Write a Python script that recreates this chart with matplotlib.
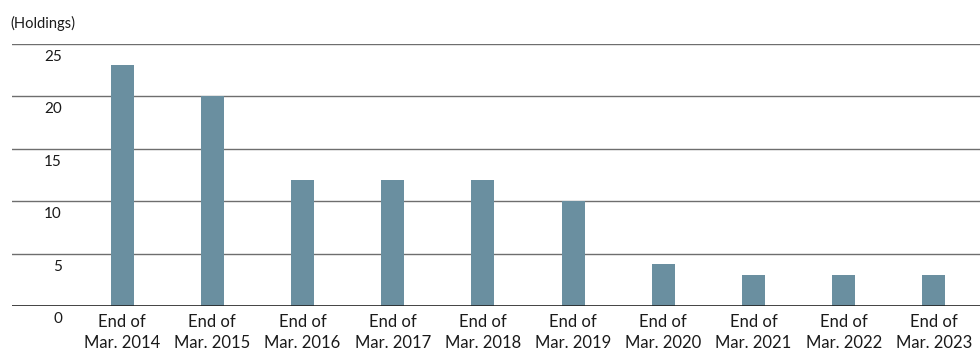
import matplotlib
matplotlib.use("Agg")
import matplotlib.pyplot as plt
import matplotlib.transforms as mtransforms

# Strategic shareholdings by fiscal year end
periods = ["Mar. 2014", "Mar. 2015", "Mar. 2016", "Mar. 2017", "Mar. 2018",
           "Mar. 2019", "Mar. 2020", "Mar. 2021", "Mar. 2022", "Mar. 2023"]
holdings = [23, 20, 12, 12, 12, 10, 4, 3, 3, 3]
y_ticks = [0, 5, 10, 15, 20, 25]

BAR_COLOR = "#6a8fa0"
GRID_COLOR = "#6e6e6e"
TEXT_COLOR = "#1a1a1a"

plt.rcParams["font.family"] = ["Lato", "DejaVu Sans"]

fig = plt.figure(figsize=(9.8, 3.55), dpi=100)
ax = fig.add_axes([12 / 980, 49 / 355, 968 / 980, 262 / 355])

x = list(range(len(periods)))
ax.bar(x, holdings, width=0.255, color=BAR_COLOR, zorder=3)

ax.set_xlim(-1.22, 9.51)
ax.set_ylim(0, 25)

for v in y_ticks[1:]:
    ax.axhline(v, color=GRID_COLOR, lw=1.0, zorder=1)
ax.axhline(0, color="#222222", lw=1.2, zorder=4)

for s in ax.spines.values():
    s.set_visible(False)

# y labels sit just beneath their gridline
ax.set_yticks([])
offset = mtransforms.ScaledTranslation(0, -6 / 100, fig.dpi_scale_trans)
trans = mtransforms.blended_transform_factory(ax.transAxes, ax.transData) + offset
for v in y_ticks:
    ax.text(50 / 968, v, str(v), transform=trans, ha="right", va="top",
            fontsize=11, color=TEXT_COLOR)

ax.set_xticks(x)
ax.set_xticklabels([f"End of\n{p}" for p in periods], fontsize=12,
                   color=TEXT_COLOR, linespacing=1.35)
ax.tick_params(axis="x", length=0, pad=6)

fig.text(10 / 980, 1 - 23 / 355, "(Holdings)", ha="left", va="center",
         fontsize=10.5, color=TEXT_COLOR)

fig.savefig("out.png", dpi=100)
